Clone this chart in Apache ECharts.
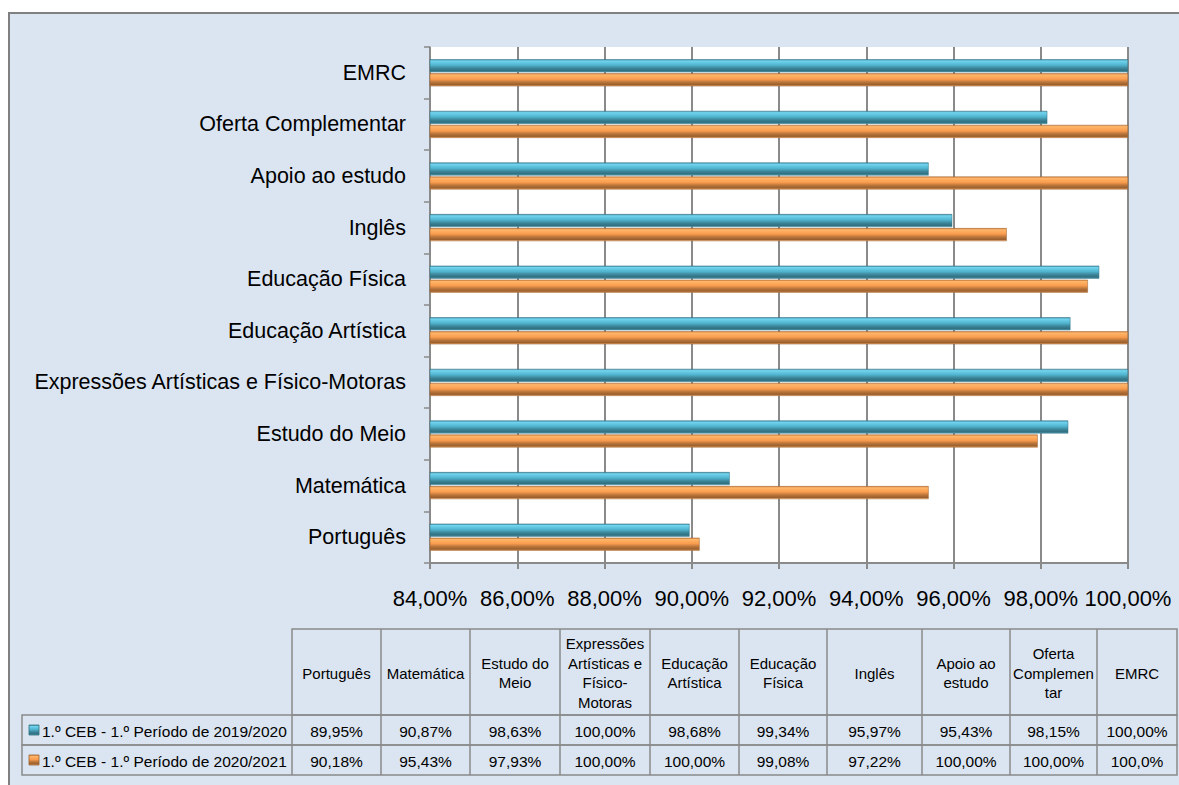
<!DOCTYPE html>
<html>
<head>
<meta charset="utf-8">
<script src="https://cdn.jsdelivr.net/npm/echarts@6/dist/echarts.min.js"></script>
<style>
  html, body { margin: 0; padding: 0; background: #fff; }
  #chart { width: 1179px; height: 785px; }
</style>
</head>
<body>
<div id="chart"></div>
<script>
// categories, bottom to top on the axis
var categories = ["Português", "Matemática", "Estudo do Meio", "Expressões Artísticas e Físico-Motoras",
  "Educação Artística", "Educação Física", "Inglês", "Apoio ao estudo", "Oferta Complementar", "EMRC"];
// table header texts (same order)
var tableHeaders = ["Português", "Matemática", "Estudo do\nMeio", "Expressões\nArtísticas e\nFísico-\nMotoras",
  "Educação\nArtística", "Educação\nFísica", "Inglês", "Apoio ao\nestudo", "Oferta\nComplemen\ntar", "EMRC"];
var seriesNames = ["1.º CEB - 1.º Período de 2019/2020", "1.º CEB - 1.º Período de 2020/2021"];
var values2019 = [89.95, 90.87, 98.63, 100.00, 98.68, 99.34, 95.97, 95.43, 98.15, 100.00];
var values2020 = [90.18, 95.43, 97.93, 100.00, 100.00, 99.08, 97.22, 100.00, 100.00, 100.0];
// the last cell is printed with one decimal in the table
var decimals2020 = [2, 2, 2, 2, 2, 2, 2, 2, 2, 1];

var FONT = '"Liberation Sans", Arial, sans-serif';

function pct(v, d) {
  return v.toFixed(d).replace('.', ',') + '%';
}

var blueFill = new echarts.graphic.LinearGradient(0, 0, 0, 1, [
  { offset: 0, color: '#3f8fa5' },
  { offset: 0.12, color: '#72d4ee' },
  { offset: 0.45, color: '#50b4ce' },
  { offset: 0.7, color: '#3c8498' },
  { offset: 0.9, color: '#2f6f80' },
  { offset: 1, color: '#5aa6ba' }
]);
var orangeFill = new echarts.graphic.LinearGradient(0, 0, 0, 1, [
  { offset: 0, color: '#d98a45' },
  { offset: 0.12, color: '#ffb66a' },
  { offset: 0.45, color: '#f99c4e' },
  { offset: 0.7, color: '#b7733a' },
  { offset: 0.9, color: '#9a5f2c' },
  { offset: 1, color: '#f0a868' }
]);

// table geometry
var colX = [292, 381, 470, 560, 650, 739, 827, 922, 1010, 1097, 1177];
var rowY = [629, 715, 745, 775];
var labelX = 22;
var LINE = '#8a8a8a';

var graphics = [];
// light blue panel with gray frame
graphics.push({
  type: 'rect', z: -10, silent: true,
  shape: { x: 9, y: 13, width: 1190, height: 800 },
  style: { fill: '#dbe5f1', stroke: '#808080', lineWidth: 2 }
});
// header row
graphics.push({ type: 'rect', shape: { x: colX[0], y: rowY[0], width: colX[10] - colX[0], height: rowY[1] - rowY[0] },
  style: { fill: 'none', stroke: LINE, lineWidth: 1.5 } });
// data rows
for (var r = 0; r < 2; r++) {
  graphics.push({ type: 'rect', shape: { x: labelX, y: rowY[r + 1], width: colX[10] - labelX, height: rowY[r + 2] - rowY[r + 1] },
    style: { fill: 'none', stroke: LINE, lineWidth: 1.5 } });
}
// column lines
for (var c = 1; c < colX.length - 1; c++) {
  graphics.push({ type: 'line', shape: { x1: colX[c], y1: rowY[0], x2: colX[c], y2: rowY[3] },
    style: { stroke: LINE, lineWidth: 1.5 } });
}
graphics.push({ type: 'line', shape: { x1: colX[0], y1: rowY[1], x2: colX[0], y2: rowY[3] },
  style: { stroke: LINE, lineWidth: 1.5 } });

// header texts
tableHeaders.forEach(function (h, i) {
  graphics.push({
    type: 'text',
    x: (colX[i] + colX[i + 1]) / 2, y: (rowY[0] + rowY[1]) / 2 + 1,
    style: { text: h, fill: '#000', font: '15px ' + FONT, align: 'center', verticalAlign: 'middle', lineHeight: 19.5 }
  });
});
// row labels with legend keys
[blueFill, orangeFill].forEach(function (fill, r) {
  var cy = (rowY[r + 1] + rowY[r + 2]) / 2;
  graphics.push({ type: 'rect', shape: { x: 29, y: cy - 5, width: 10, height: 10 },
    style: { fill: fill, stroke: r === 0 ? '#2f6f80' : '#9a5f2c', lineWidth: 0.8 } });
  graphics.push({ type: 'text', x: 42, y: cy + 1,
    style: { text: seriesNames[r], fill: '#000', font: '15.5px ' + FONT, verticalAlign: 'middle' } });
});
// values
values2019.forEach(function (v, i) {
  graphics.push({ type: 'text', x: (colX[i] + colX[i + 1]) / 2, y: (rowY[1] + rowY[2]) / 2 + 1,
    style: { text: pct(v, 2), fill: '#000', font: '15.5px ' + FONT, align: 'center', verticalAlign: 'middle' } });
});
values2020.forEach(function (v, i) {
  graphics.push({ type: 'text', x: (colX[i] + colX[i + 1]) / 2, y: (rowY[2] + rowY[3]) / 2 + 1,
    style: { text: pct(v, decimals2020[i]), fill: '#000', font: '15.5px ' + FONT, align: 'center', verticalAlign: 'middle' } });
});

var chart = echarts.init(document.getElementById('chart'), null, { renderer: 'svg' });
chart.setOption({
  backgroundColor: '#fff',
  animation: false,
  textStyle: { fontFamily: FONT },
  grid: {
    left: 430, right: 51, top: 47, bottom: 222,
    show: true, backgroundColor: '#fff', borderWidth: 0
  },
  xAxis: {
    type: 'value',
    min: 84, max: 100, interval: 2,
    axisLine: { show: true, lineStyle: { color: '#8a8a8a', width: 2 } },
    axisTick: { show: true, length: 6, lineStyle: { color: '#8a8a8a', width: 2 } },
    splitLine: { show: true, lineStyle: { color: '#8a8a8a', width: 2 } },
    axisLabel: {
      color: '#000', fontSize: 22, fontFamily: FONT, margin: 24,
      showMinLabel: true, showMaxLabel: true, hideOverlap: false,
      formatter: function (v) { return pct(v, 2); }
    }
  },
  yAxis: {
    type: 'category',
    data: categories,
    axisLine: { show: true, lineStyle: { color: '#8a8a8a', width: 1.5 } },
    axisTick: { show: true, length: 6, lineStyle: { color: '#8a8a8a', width: 1.5 } },
    axisLabel: { color: '#000', fontSize: 21.5, fontFamily: FONT, margin: 24 }
  },
  series: [
    {
      name: seriesNames[0], type: 'bar', data: values2019,
      barWidth: 13, barGap: '8%',
      itemStyle: { color: blueFill, borderColor: '#2f6f80', borderWidth: 0.5 }
    },
    {
      name: seriesNames[1], type: 'bar', data: values2020,
      barWidth: 13, barGap: '8%',
      itemStyle: { color: orangeFill, borderColor: '#9a5f2c', borderWidth: 0.5 }
    }
  ],
  graphic: graphics
});
</script>
</body>
</html>
